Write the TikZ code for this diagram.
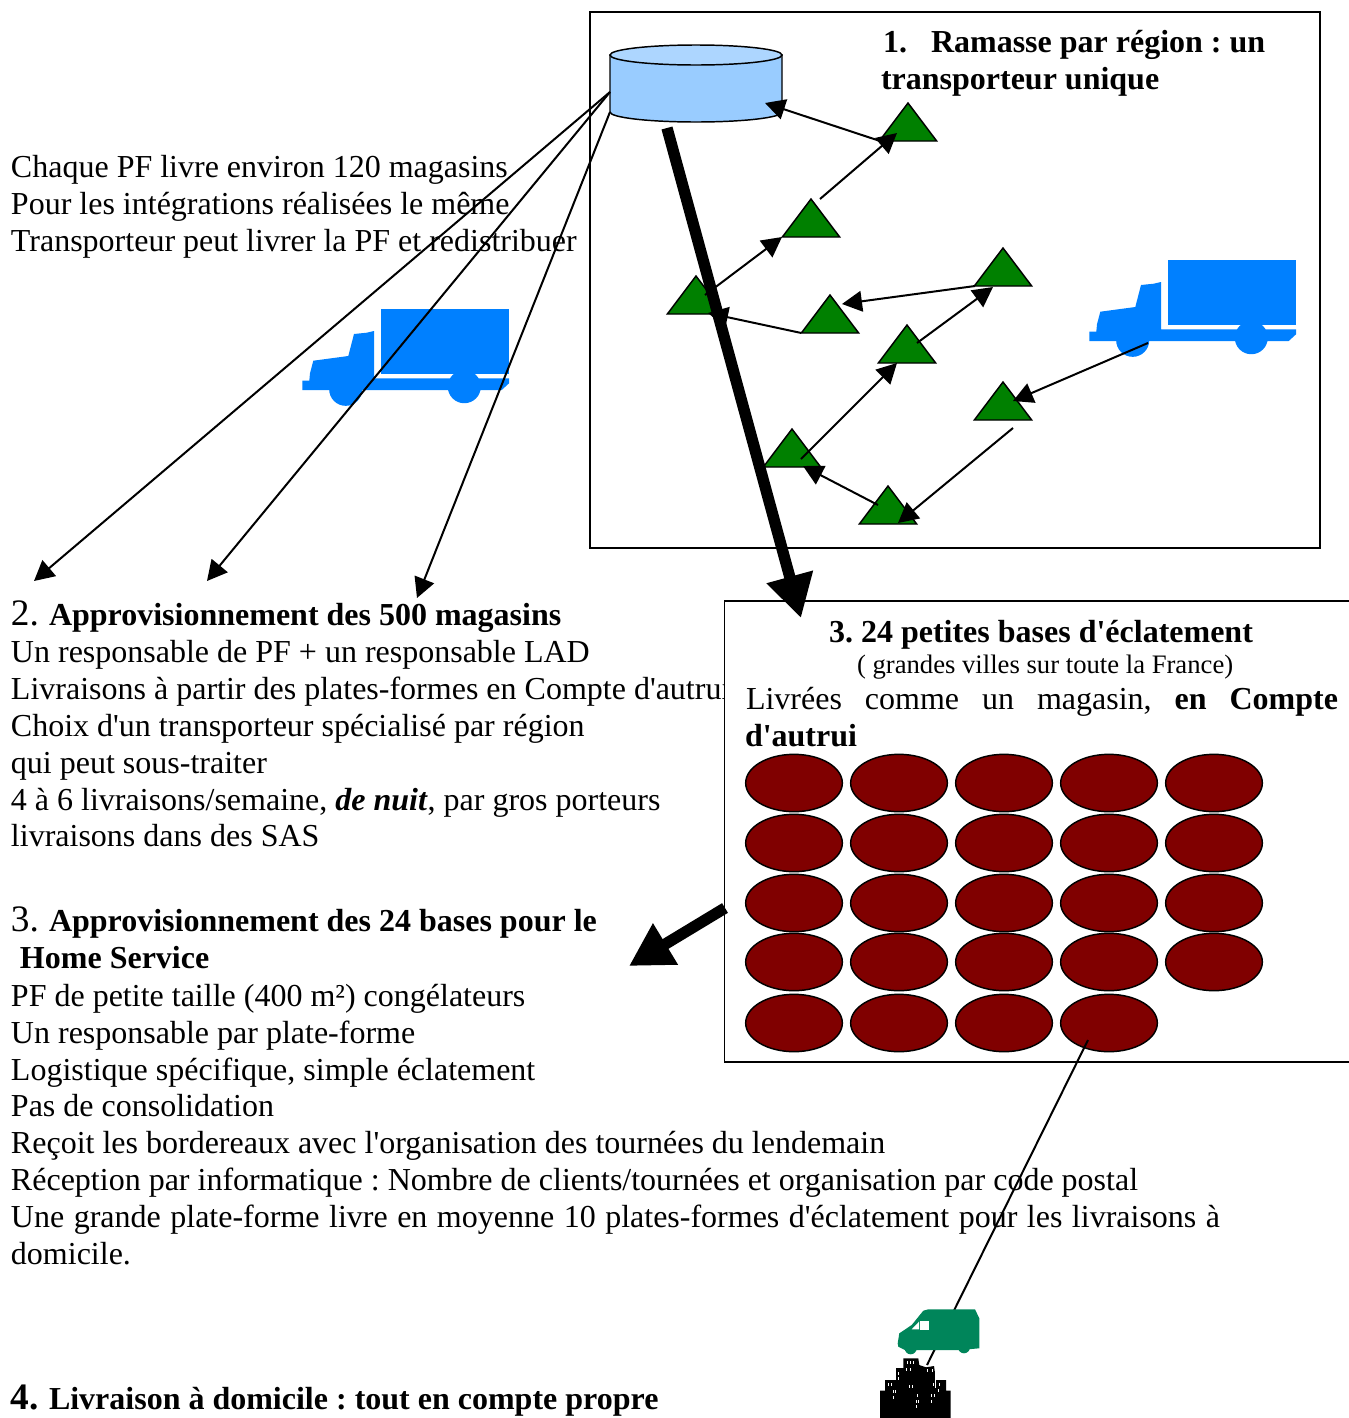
\documentclass[tikz,border=0pt]{standalone}
\usepackage{fontspec}
\setmainfont{Liberation Serif}[Ligatures=TeXOff]
\usetikzlibrary{arrows.meta,shapes.geometric,calc}
\tikzset{
  txt/.style={anchor=base west,inner sep=0pt,outer sep=0pt,font=\fontsize{24}{24}\selectfont},
  boldtxt/.style={txt,font=\fontsize{24}{24}\selectfont\bfseries},
  frame/.style={draw=black,fill=white,line width=1.4pt},
  tri/.style={isosceles triangle,isosceles triangle stretches,shape border rotate=90,draw=black,fill=triGreen,line width=1.1pt,minimum width=43pt,minimum height=28.5pt,inner sep=0pt,outer sep=0pt,anchor=apex},
  base/.style={ellipse,draw=black,fill=baseRed,line width=1.1pt,minimum width=72.5pt,minimum height=43pt,inner sep=0pt,outer sep=0pt},
  conn/.style={draw=black,line width=1.5pt,-{Triangle[length=15pt,width=15.5pt]}},
  plain/.style={draw=black,line width=1.5pt},
  heavy/.style={draw=black,line width=8.5pt,-{Triangle[length=32pt,width=34pt]}},
  truckfill/.style={fill=truckBlue,draw=none}
}
\definecolor{triGreen}{HTML}{008000}
\definecolor{baseRed}{HTML}{800000}
\definecolor{truckBlue}{HTML}{0080FF}
\definecolor{vanGreen}{HTML}{00855A}
\definecolor{cylBody}{HTML}{99CCFF}
\definecolor{cylTop}{HTML}{ADD6FF}
\newcommand{\bignum}[1]{\makebox[28.5pt][l]{\fontsize{28}{28}\selectfont #1}}
\newcommand{\truckshape}[2]{%
  \begin{scope}[shift={(#1,#2)}]
    \fill[truckfill] (381,309) rectangle (509,374);
    \fill[truckfill] (302.3,380.7) -- (309.3,380.7) -- (310,373.3) -- (313.3,360.7) -- (348.3,356) -- (354,334) -- (366.7,332.7) -- (374,331) -- (374,378.3) -- (509,378.3) -- (509,383.3) -- (501.7,390) -- (302.3,390) -- cycle;
    \fill[truckfill] (345.7,389.3) circle[radius=12.4pt];
    \fill[truckfill] (464.3,386.7) circle[radius=12.4pt];
  \end{scope}}
\begin{document}
\frenchspacing
\begin{tikzpicture}[x=0.75pt,y=-0.75pt]
\useasboundingbox (0,0) rectangle (1349,1418);
% left texts
\node[txt] (a1) at (11,177) {Chaque PF livre environ 120 magasins};
\node[txt] (a2) at (11,214) {Pour les intégrations réalisées le même};
\node[txt] (a3) at (11,251) {Transporteur peut livrer la PF et redistribuer};
\node[txt] (b0) at (11,625) {\bignum{2.}\textbf{Approvisionnement des 500 magasins}};
\node[txt] (b1) at (11,662) {Un responsable de PF + un responsable LAD};
\node[txt] (b2) at (11,699) {Livraisons à partir des plates-formes en Compte d'autrui};
\node[txt] (b3) at (11,736) {Choix d'un transporteur spécialisé par région};
\node[txt] (b4) at (11,773) {qui peut sous-traiter};
\node[txt] (b5) at (11,810) {4 à 6 livraisons/semaine, \textbf{\textit{de nuit}}, par gros porteurs};
\node[txt] (b6) at (11,846) {livraisons dans des SAS};
\node[txt] (c0) at (11,931) {\bignum{3.}\textbf{Approvisionnement des 24 bases pour le}};
\node[boldtxt] (c00) at (20,968) {Home Service};
\node[txt] (c1) at (11,1006) {PF de petite taille (400 m²) congélateurs};
\node[txt] (c2) at (11,1043) {Un responsable par plate-forme};
\node[txt] (c3) at (11,1080) {Logistique spécifique, simple éclatement};
\node[txt] (c4) at (11,1116) {Pas de consolidation};
\node[txt] (c5) at (11,1153) {Reçoit les bordereaux avec l'organisation des tournées du lendemain};
\node[txt] (c6) at (11,1190) {Réception par informatique : Nombre de clients/tournées et organisation par code postal};
\node[txt] (c7) at (11,1227) {\makebox[906.75pt][s]{Une grande plate-forme livre en moyenne 10 plates-formes d'éclatement pour les livraisons à}};
\node[txt] (c8) at (11,1264) {domicile.};
\node[txt] (d0) at (11,1409) {\bignum{\textbf{4.}}\textbf{Livraison à domicile : tout en compte propre}};
% boxes
\draw[frame] (590,12) rectangle (1320,548);
\draw[frame] (724.5,601) -- (1352,601) -- (1352,1062) -- (724.5,1062) -- cycle;
% box 1 texts
\node[boldtxt] (h1) at (883,52) {1.\hspace{18pt}Ramasse par région : un};
\node[boldtxt] (h2) at (881,89) {transporteur unique};
% box 3 texts
\node[boldtxt] (k1) at (829,642) {3. 24 petites bases d'éclatement};
\node[txt,font=\fontsize{20}{24}\selectfont] (k2) at (857,673) {( grandes villes sur toute la France)};
\node[txt] (k3) at (746,709) {\makebox[444pt][s]{Livrées comme un magasin, \textbf{en Compte}}};
\node[boldtxt] (k4) at (745,746) {d'autrui};
% ellipses
\foreach \r/\y in {1/783,2/843,3/903,4/962}{
  \foreach \c/\x in {1/794,2/899,3/1004,4/1109,5/1214}{
    \node[base] (e\r\c) at (\x,\y) {};
  }
}
\foreach \c/\x in {1/794,2/899,3/1004,4/1109}{
  \node[base] (e5\c) at (\x,1023) {};
}
% cylinder
\coordinate (cylL) at (610,92);
\coordinate (cylL2) at (610,112);
\coordinate (cylR) at (765,103);
\draw[fill=cylBody,line width=1.1pt] (610,55) -- (610,112) arc[start angle=180,end angle=0,x radius=86,y radius=10] -- (782,55) -- cycle;
\draw[fill=cylTop,line width=1.1pt] (696,55) ellipse[x radius=86,y radius=10];
% triangles
\node[tri] (t1) at (908,103) {};
\node[tri] (t2) at (811,199) {};
\node[tri] (t3) at (696,276) {};
\node[tri] (t4) at (830,295) {};
\node[tri] (t5) at (1003,248) {};
\node[tri] (t6) at (907,325) {};
\node[tri] (t7) at (1003,382) {};
\node[tri] (t8) at (792,429) {};
\node[tri] (t9) at (888,486) {};
% trucks
\truckshape{0}{0}
\truckshape{787}{-49}
\coordinate (truck) at (1148,343);
% van and city
\coordinate (homes) at (927,1365);
\draw[plain] ([shift={(-21,17)}]e54.center) -- (homes);
\fill[vanGreen] (897.7,1343.3) -- (899.3,1333.3) -- (911.7,1325) -- (923.3,1310.7) -- (928.3,1309.3) -- (975,1309.3) -- (979.3,1318.3) -- (979.3,1348.3) -- (960,1350) -- (905,1350) -- (898.3,1346.7) -- cycle;
\fill[vanGreen] (910.7,1348.3) circle[radius=4.5pt] (964,1347.3) circle[radius=4.5pt];
\fill[white] (920,1320.7) rectangle (929,1330);
\fill[white] (911.7,1329.3) -- (919,1321.7) -- (919,1329.3) -- cycle;
\fill[black] (880,1418) -- (880,1390.7) -- (885,1390.7) -- (885,1380) -- (896,1380) -- (896,1368) -- (903.3,1368) -- (903.3,1358.3) -- (918.3,1358.3) -- (919.3,1365) -- (926,1367.3) -- (934,1366) -- (936,1380) -- (946,1380) -- (946,1390.7) -- (950.7,1390.7) -- (950.7,1418) -- cycle;
\foreach \x/\y in {907/1361,910/1361,913/1361,906/1368,910/1368,898/1372,898/1377,888/1383,891/1383,909/1385,912/1385,893/1390,895/1390,893/1396,917/1394,933/1383,939/1383,938/1389,931/1394,934/1394,931/1400,916/1400,918/1400,916/1405,927/1369,932/1369}{
  \draw[white,line width=0.6pt] (\x,\y) -- (\x,\y+3);
}
\draw[white,line width=0.5pt] (935,1368) -- (935,1388);
% connectors in box 1
\draw[conn] ([shift={(-28,38)}]t1.apex) -- (cylR);
\draw[conn] ([shift={(9,0)}]t2.apex) -- ([shift={(-11,30)}]t1.apex);
\draw[conn] ([shift={(9,19)}]t3.apex) -- ([shift={(-29,38)}]t2.apex);
\draw[conn] (t4.left corner) -- ([shift={(12,37)}]t3.apex);
\draw[conn] ([shift={(-28,38)}]t5.apex) -- ([shift={(12,9)}]t4.apex);
\draw[conn] ([shift={(10,18)}]t6.apex) -- ([shift={(-10,39)}]t5.apex);
\draw[conn] ([shift={(9,30)}]t8.apex) -- ([shift={(-10,38)}]t6.apex);
\draw[conn] ([shift={(-10,19)}]t9.apex) -- ([shift={(11,37)}]t8.apex);
\draw[conn] ([shift={(10,46)}]t7.apex) -- ([shift={(10,37)}]t9.apex);
\draw[conn] (truck) -- ([shift={(10,19)}]t7.apex);
% long arrows
\draw[conn] (cylL) -- (34,581) coordinate (p1);
\draw[conn] (cylL) -- (207,581) coordinate (p2);
\draw[conn] (cylL2) -- (417,598) coordinate (p3);
% heavy arrows
\coordinate (hs) at (667,128);
\coordinate (he) at (801,618);
\draw[heavy] (hs) -- (he);
\coordinate (ls) at (725,908);
\coordinate (le) at (629,966);
\draw[heavy] (ls) -- (le);
\end{tikzpicture}
\end{document}
